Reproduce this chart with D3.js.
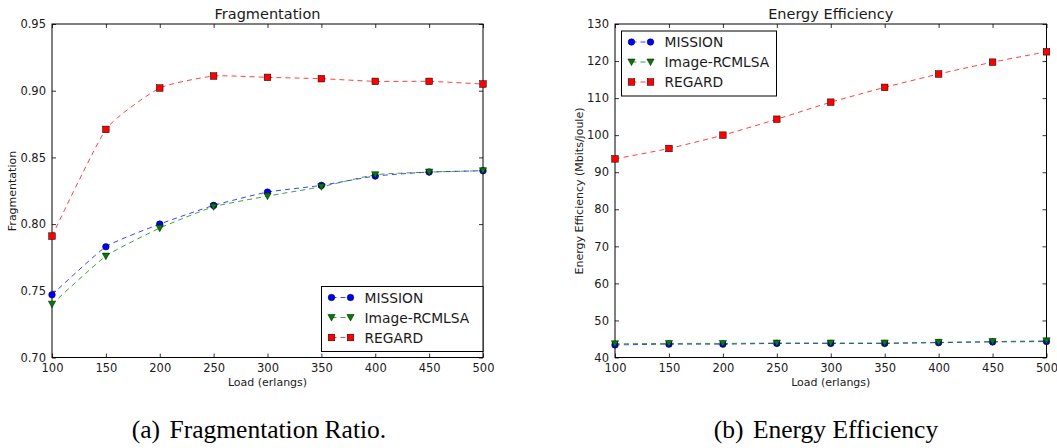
<!DOCTYPE html>
<html lang="en">

<head>
    <meta charset="UTF-8">
    <title>Fragmentation / Energy Efficiency</title>
    <style>
        html,
        body {
            background-color: white;
            margin: 0;
        }

        text {
            font-family: "DejaVu Sans", sans-serif;
            fill: #1a1a1a;
        }

        .caption {
            font-family: "Liberation Serif", "Times New Roman", serif;
            font-size: 25.5px;
            fill: #000;
        }
    </style>
</head>

<body>
    <main></main>
    <script src="https://d3js.org/d3.v7.min.js"></script>
    <script>
        !(function () {
            'use strict';
            // - - - - - - - - - -
            // 1. Data
            // - - - - - - - - - -
            const loads = [100, 150, 200, 250, 300, 350, 400, 450, 500];
            const seriesNames = ['MISSION', 'Image-RCMLSA', 'REGARD'];

            const fragMission = [0.747, 0.783, 0.800, 0.814, 0.824, 0.829, 0.836, 0.839, 0.840];
            const fragImage = [0.740, 0.776, 0.797, 0.813, 0.821, 0.828, 0.837, 0.839, 0.840];
            const fragRegard = [0.791, 0.871, 0.902, 0.911, 0.910, 0.909, 0.907, 0.907, 0.905];

            const energyMission = [43.4, 43.6, 43.6, 43.8, 43.8, 43.8, 44.0, 44.2, 44.3];
            const energyImage = [43.7, 43.8, 43.8, 43.9, 43.9, 43.9, 44.1, 44.3, 44.5];
            const energyRegard = [93.6, 96.4, 100.0, 104.3, 108.9, 112.9, 116.5, 119.7, 122.5];

            const fragTicks = [0.70, 0.75, 0.80, 0.85, 0.90, 0.95];
            const energyTicks = [40, 50, 60, 70, 80, 90, 100, 110, 120, 130];

            const colors = ['#0000ff', '#007f00', '#ff0000'];
            const symbols = ['circle', 'triangle', 'square'];

            let svg;
            const canvas = { width: 1057, height: 448 };

            // - - - - - - - - - -
            // 2. Functions
            // - - - - - - - - - -

            function setSvg() {
                svg = d3.select('main')
                    .append('svg')
                    .attr('width', canvas.width)
                    .attr('height', canvas.height);
            }

            /** draw one marker centred at (0,0) */
            function marker(g, kind, color) {
                if (kind === 'circle') {
                    g.append('circle').attr('r', 3.3);
                } else if (kind === 'square') {
                    g.append('rect').attr('x', -3.3).attr('y', -3.3).attr('width', 6.6).attr('height', 6.6);
                } else {
                    g.append('path').attr('d', 'M-3.6,-3 L3.6,-3 L0,3.6 Z');
                }
                g.selectAll('*')
                    .attr('fill', color)
                    .attr('stroke', '#000')
                    .attr('stroke-width', 0.5);
            }

            /** one panel */
            function drawPanel(cfg) {
                const x = d3.scaleLinear().domain([100, 500]).range([cfg.left, cfg.right]);
                const y = d3.scaleLinear().domain(cfg.yDomain).range([357.5, 24]);
                const g = svg.append('g');

                // frame
                g.append('rect')
                    .attr('x', cfg.left).attr('y', 24)
                    .attr('width', cfg.right - cfg.left).attr('height', 333.5)
                    .attr('fill', 'none').attr('stroke', '#000').attr('stroke-width', 1);

                // axes (ticks inward, all four sides)
                g.append('g').attr('transform', 'translate(0,357.5)')
                    .call(d3.axisBottom(x).tickValues(loads).tickSize(-4).tickPadding(6).tickFormat(d3.format('d')));
                g.append('g').attr('transform', 'translate(0,24)')
                    .call(d3.axisTop(x).tickValues(loads).tickSize(-4).tickFormat(''));
                g.append('g').attr('transform', 'translate(' + cfg.left + ',0)')
                    .call(d3.axisLeft(y).tickValues(cfg.yTicks).tickSize(-4).tickPadding(6).tickFormat(cfg.yFormat));
                g.append('g').attr('transform', 'translate(' + cfg.right + ',0)')
                    .call(d3.axisRight(y).tickValues(cfg.yTicks).tickSize(-4).tickFormat(''));
                g.selectAll('.domain').remove();
                g.selectAll('.tick line').attr('stroke', '#000').attr('stroke-width', 0.8);
                g.selectAll('.tick text')
                    .attr('font-family', '"DejaVu Sans", sans-serif')
                    .attr('font-size', 11.5).attr('fill', '#1a1a1a');

                // series
                const line = d3.line()
                    .x(function (d, i) { return x(loads[i]); })
                    .y(function (d) { return y(d); })
                    .curve(d3.curveCardinal.tension(0.5));

                cfg.series.forEach(function (vals, k) {
                    g.append('path')
                        .attr('d', line(vals))
                        .attr('fill', 'none')
                        .attr('stroke', colors[k])
                        .attr('stroke-opacity', 0.75)
                        .attr('stroke-width', 1)
                        .attr('stroke-dasharray', '5,4');
                });
                cfg.series.forEach(function (vals, k) {
                    vals.forEach(function (v, i) {
                        const m = g.append('g')
                            .attr('transform', 'translate(' + x(loads[i]) + ',' + y(v) + ')');
                        marker(m, symbols[k], colors[k]);
                    });
                });

                // titles
                const cx = (cfg.left + cfg.right) / 2;
                g.append('text').attr('x', cx).attr('y', 19)
                    .attr('text-anchor', 'middle').attr('font-size', 14.5).text(cfg.title);
                g.append('text').attr('x', cx).attr('y', 386)
                    .attr('text-anchor', 'middle').attr('font-size', 11).text('Load (erlangs)');
                g.append('text')
                    .attr('transform', 'translate(' + cfg.yLabelX + ',191) rotate(-90)')
                    .attr('text-anchor', 'middle').attr('font-size', 11).text(cfg.yLabel);

                // legend
                const lg = cfg.legend;
                g.append('rect')
                    .attr('x', lg.x).attr('y', lg.y).attr('width', lg.w).attr('height', lg.h)
                    .attr('fill', '#fff').attr('stroke', '#000').attr('stroke-width', 1);
                seriesNames.forEach(function (name, k) {
                    const yy = lg.y + 11 + k * 20;
                    const x0 = lg.x + 10, x1 = lg.x + 29;
                    g.append('line')
                        .attr('x1', x0).attr('x2', x1).attr('y1', yy).attr('y2', yy)
                        .attr('stroke', colors[k]).attr('stroke-opacity', 0.75)
                        .attr('stroke-dasharray', '5,4');
                    [x0, x1].forEach(function (px) {
                        marker(g.append('g').attr('transform', 'translate(' + px + ',' + yy + ')'), symbols[k], colors[k]);
                    });
                    g.append('text').attr('x', lg.x + 43).attr('y', yy + 5)
                        .attr('font-size', 13.8).text(name);
                });

                // caption
                const cap = svg.append('text').attr('class', 'caption')
                    .attr('x', cfg.captionX).attr('y', 437.5)
                    .attr('text-anchor', 'middle');
                cap.append('tspan').text(cfg.caption[0]);
                cap.append('tspan').attr('dx', 3).text(' ' + cfg.caption[1]);
            }

            function main() {
                setSvg();
                drawPanel({
                    left: 52, right: 483,
                    yDomain: [0.70, 0.95], yTicks: fragTicks, yFormat: d3.format('.2f'),
                    series: [fragMission, fragImage, fragRegard],
                    title: 'Fragmentation', yLabel: 'Fragmentation', yLabelX: 16,
                    legend: { x: 321.5, y: 286.5, w: 161.5, h: 65 },
                    caption: ['(a)', 'Fragmentation Ratio.'], captionX: 259
                });
                drawPanel({
                    left: 615, right: 1046.5,
                    yDomain: [40, 130], yTicks: energyTicks, yFormat: d3.format('d'),
                    series: [energyMission, energyImage, energyRegard],
                    title: 'Energy Efficiency', yLabel: 'Energy Efficiency (Mbits/joule)', yLabelX: 583,
                    legend: { x: 621.5, y: 31, w: 155, h: 65 },
                    caption: ['(b)', 'Energy Efficiency'], captionX: 826
                });
            }

            window.addEventListener('load', main);
        }());
    </script>
</body>

</html>
